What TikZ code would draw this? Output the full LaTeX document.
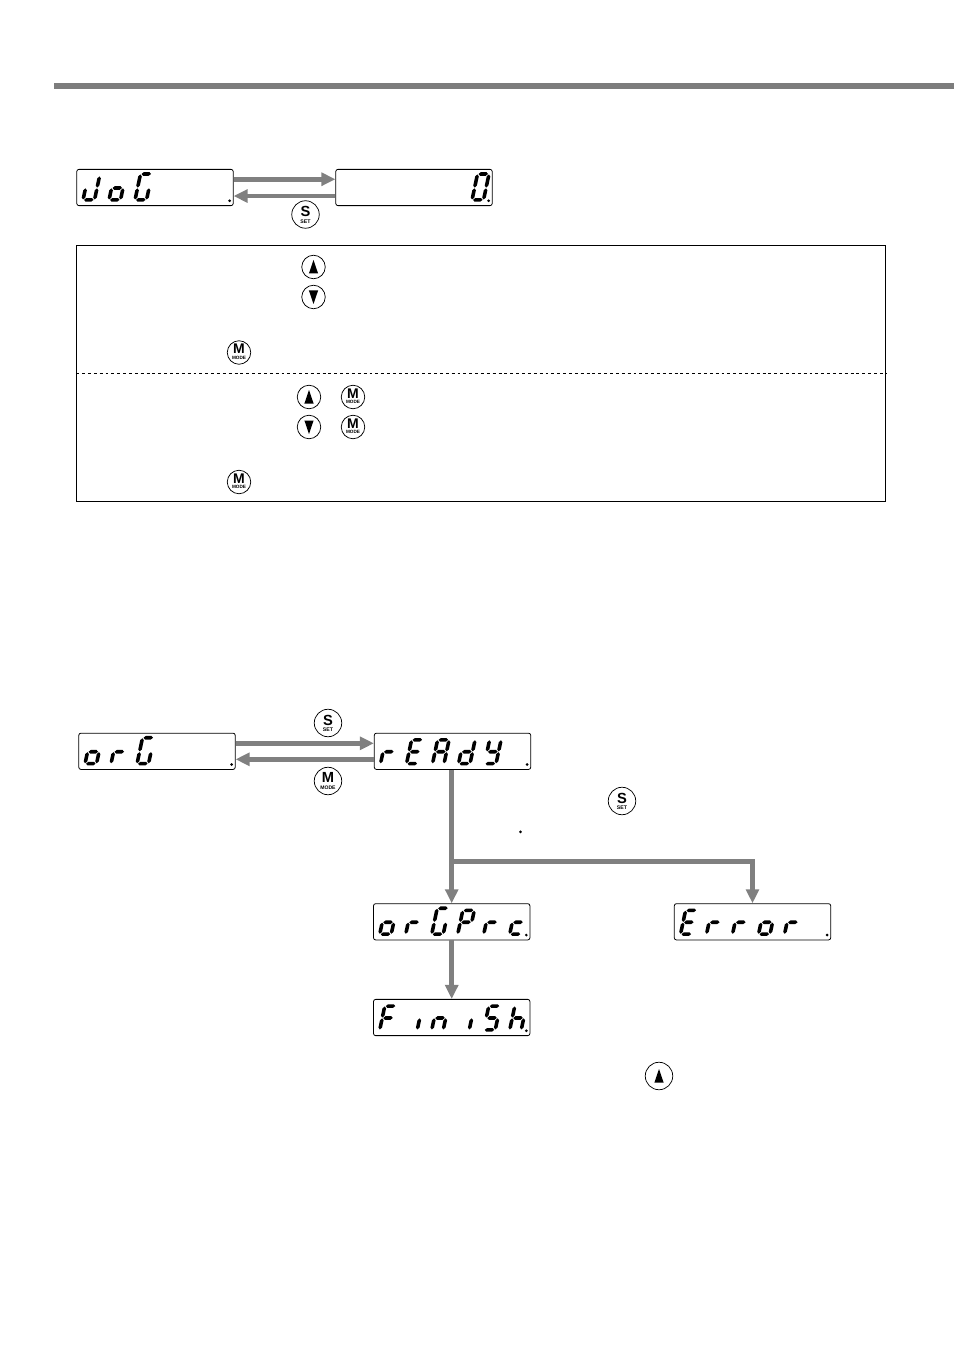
\documentclass[tikz,border=0pt]{standalone}
\usepackage{fontspec}
\setmainfont{Liberation Sans}
\usetikzlibrary{arrows.meta,calc}
\definecolor{flowgray}{RGB}{128,128,128}
\definecolor{bargray}{RGB}{125,125,125}
\tikzset{
  disp/.style={draw=black,line width=0.6pt,rounded corners=1.6pt,minimum width=117.3pt,minimum height=27.2pt,inner sep=0pt,fill=white},
  flow/.style={draw=flowgray,line width=3.7pt,-{Triangle[length=10.5pt,width=9.6pt]}},
  btnbig/.style={draw=black,circle,line width=0.55pt,minimum size=20.6pt,inner sep=0pt,fill=white},
  btnsmall/.style={draw=black,circle,line width=0.55pt,minimum size=17.6pt,inner sep=0pt,fill=white},
  panel/.style={draw=black,line width=0.55pt,minimum width=606.7pt,minimum height=192pt,inner sep=0pt},
  dashline/.style={draw=black,line width=0.5pt,dash pattern=on 2.2pt off 2.2pt},
}
% segments, in a cell 11.5 wide, 27 high
\newcommand\hsg[3]{\fill (#1,#3)--(#1+1.9,#3-1.8)--(#2-1.9,#3-1.8)--(#2,#3)--(#2-1.9,#3+1.8)--(#1+1.9,#3+1.8)--cycle;}
\newcommand\vsg[3]{\fill (#1,#2)--(#1+1.8,#2+1.9)--(#1+1.8,#3-1.9)--(#1,#3)--(#1-1.8,#3-1.9)--(#1-1.8,#2+1.9)--cycle;}
\newcommand\sga{\hsg{1}{10.5}{1.6}}
\newcommand\sgg{\hsg{1}{10.5}{13.5}}
\newcommand\sgd{\hsg{1}{10.5}{25.4}}
\newcommand\sgf{\vsg{0}{2}{13.1}}
\newcommand\sgb{\vsg{11.5}{2}{13.1}}
\newcommand\sge{\vsg{0}{13.9}{25}}
\newcommand\sgc{\vsg{11.5}{13.9}{25}}
\newcommand\sgat{\hsg{1}{10.5}{-0.5}}
\newcommand\sgft{\vsg{0}{0}{13.1}}
\newcommand\GlJ{\sgb\sgc\sgd\sge}
\newcommand\Glo{\sgc\sgd\sge\sgg}
\newcommand\GlG{\sgat\sgc\sgd\sge\sgft}
\newcommand\GlO{\sgat\vsg{11.5}{0}{13.1}\sgc\sgd\sge\sgft}
\newcommand\Glr{\sge\sgg}
\newcommand\GlE{\sga\sgd\sge\sgf\sgg}
\newcommand\GlA{\sga\sgb\sgc\sge\sgf\sgg}
\newcommand\Gld{\sgb\sgc\sgd\sge\sgg}
\newcommand\GlY{\sgb\sgc\sgd\sgf\sgg}
\newcommand\GlP{\sga\sgb\sge\sgf\sgg}
\newcommand\Glc{\sgd\sge\sgg}
\newcommand\GlF{\sga\sge\sgf\sgg}
\newcommand\Gli{\sgc}
\newcommand\Gln{\sgc\sge\sgg}
\newcommand\GlS{\sga\sgc\sgd\sgf\sgg}
\newcommand\Glh{\sgc\sge\sgf\sgg}
\newcommand\GlX{\relax}
\newcommand\glyphs[2]{%
  \foreach \g [count=\ci from 0] in {#2}{%
    \begin{scope}[shift={(#1.north west)},shift={({12+26*\ci},5.5)},y={(-0.158pt,-0.75pt)}]
      \g
    \end{scope}}%
  \fill ([shift={(-4,-5.3)}]#1.south east) circle[radius=1.1pt];}
\newcommand\arrowup[1]{\fill ([shift={(0,-7)}]#1.center)--([shift={(4.6,6.5)}]#1.center)--([shift={(-4.6,6.5)}]#1.center)--cycle;}
\newcommand\arrowdn[1]{\fill ([shift={(0,7)}]#1.center)--([shift={(4.6,-6.5)}]#1.center)--([shift={(-4.6,-6.5)}]#1.center)--cycle;}
\newcommand\stk[6]{\smash{\makebox[0pt]{\raisebox{#2}{\bfseries\fontsize{#3}{#3}\selectfont #1}}\makebox[0pt]{\raisebox{#5}{\bfseries\fontsize{#6}{#6}\selectfont #4}}}}
\newcommand\txtS{\stk{S}{-1.5pt}{11}{SET}{-6.4pt}{3.9}}
\newcommand\txtM{\stk{M}{-1pt}{10.5}{MODE}{-5pt}{3.5}}
\newcommand\txtMb{\stk{M}{-1.4pt}{11}{MODE}{-6pt}{3.8}}
\begin{document}
\begin{tikzpicture}[x=0.75pt,y=-0.75pt]
\useasboundingbox (0,0) rectangle (954,1351);
\fill[bargray] (54,83) rectangle (954,89);

% JOG row
\node[disp] (jog) at (155,187.5) {};
\node[disp] (jogv) at (414,187.5) {};
\glyphs{jog}{\GlJ,\Glo,\GlG}
\glyphs{jogv}{\GlX,\GlX,\GlX,\GlX,\GlX,\GlO}
\draw[flow] ([yshift=6.2pt]jog.east) -- ([yshift=6.2pt]jogv.west);
\draw[flow] ([yshift=-6.4pt]jogv.west) -- ([yshift=-6.4pt]jog.east);
\node[btnbig] (bs1) at (305.5,214.5) {\txtS};

% panel
\node[panel] (frame) at (481,373) {};
\coordinate (dl) at (frame.west);
\coordinate (dr) at (frame.east);
\draw[dashline] (dl) -- (dr);
\node[btnsmall] (u1) at (313.5,267) {};
\arrowup{u1}
\node[btnsmall] (d1) at (313.5,297) {};
\arrowdn{d1}
\node[btnsmall] (m1) at (239,352.5) {\txtM};
\node[btnsmall] (u2) at (309,397) {};
\arrowup{u2}
\node[btnsmall] (m2) at (353,397) {\txtM};
\node[btnsmall] (d2) at (309,427) {};
\arrowdn{d2}
\node[btnsmall] (m3) at (353,427) {\txtM};
\node[btnsmall] (m4) at (239,482) {\txtM};

% ORG flow
\node[disp] (org) at (157,751.3) {};
\node[disp] (ready) at (452.5,751.3) {};
\node[disp] (orgprc) at (451.7,921.8) {};
\node[disp] (err) at (752.5,921.8) {};
\node[disp] (fin) at (451.7,1017.5) {};
\glyphs{org}{\Glo,\Glr,\GlG}
\glyphs{ready}{\Glr,\GlE,\GlA,\Gld,\GlY}
\glyphs{orgprc}{\Glo,\Glr,\GlG,\GlP,\Glr,\Glc}
\glyphs{err}{\GlE,\Glr,\Glr,\Glo,\Glr}
\glyphs{fin}{\GlF,\Gli,\Gln,\Gli,\GlS,\Glh}
\draw[flow] ([yshift=6pt]org.east) -- ([yshift=6pt]ready.west);
\draw[flow] ([yshift=-6pt]ready.west) -- ([yshift=-6pt]org.east);
\draw[flow] (ready.south -| orgprc.north) -- (orgprc.north);
\coordinate (junc) at ($(orgprc.north)+(0,-42)$);
\draw[flow] (junc) -| (err.north);
\draw[flow] (orgprc.south) -- (fin.north);
\node[btnbig] (bs2) at (328,723) {\txtS};
\node[btnbig] (bm2) at (328,781) {\txtMb};
\node[btnbig] (bs3) at (622,801) {\txtS};
\node[btnbig] (bu3) at (659,1076) {};
\arrowup{bu3}
\fill (520.5,831.8) circle[radius=1.1pt];
\end{tikzpicture}
\end{document}
